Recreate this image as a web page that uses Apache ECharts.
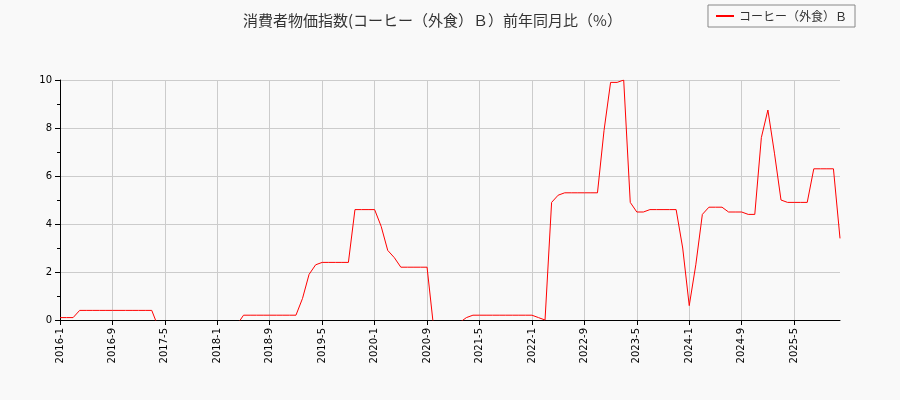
<!DOCTYPE html>
<html lang="ja">
<head>
<meta charset="UTF-8">
<title>コーヒー（外食）Ｂ</title>
<script src="https://cdn.jsdelivr.net/npm/echarts@6/dist/echarts.min.js"></script>
<style>
  body { margin: 0; background: #f9f9f9; }
  #main { width: 900px; height: 400px; }
</style>
</head>
<body>
<div id="main"></div>
<script>
// 2016-1 から 2025-12 までの月次値（マイナス部分は軸の下で切れる）
var startYear = 2016;
var values2016 = [0.1, 0.1, 0.1, 0.4, 0.4, 0.4, 0.4, 0.4, 0.4, 0.4, 0.4, 0.4];
var values2017 = [0.4, 0.4, 0.4, -0.3, -0.3, -0.3, -0.3, -0.3, -0.3, -0.3, -0.3, -0.3];
var values2018 = [-0.3, -0.3, -0.3, -0.2, 0.2, 0.2, 0.2, 0.2, 0.2, 0.2, 0.2, 0.2];
var values2019 = [0.2, 0.9, 1.9, 2.3, 2.4, 2.4, 2.4, 2.4, 2.4, 4.6, 4.6, 4.6];
var values2020 = [4.6, 3.9, 2.9, 2.6, 2.2, 2.2, 2.2, 2.2, 2.2, -0.3, -0.3, -0.3];
var values2021 = [-0.3, -0.1, 0.1, 0.2, 0.2, 0.2, 0.2, 0.2, 0.2, 0.2, 0.2, 0.2];
var values2022 = [0.2, 0.1, 0.0, 4.9, 5.2, 5.3, 5.3, 5.3, 5.3, 5.3, 5.3, 7.9];
var values2023 = [9.9, 9.9, 10.0, 4.9, 4.5, 4.5, 4.6, 4.6, 4.6, 4.6, 4.6, 3.0];
var values2024 = [0.6, 2.3, 4.4, 4.7, 4.7, 4.7, 4.5, 4.5, 4.5, 4.4, 4.4, 7.6];
var values2025 = [8.75, 6.95, 5.0, 4.9, 4.9, 4.9, 4.9, 6.3, 6.3, 6.3, 6.3, 3.4];

var values = [].concat(values2016, values2017, values2018, values2019, values2020,
    values2021, values2022, values2023, values2024, values2025);
var months = [];
for (var i = 0; i < values.length; i++) {
    months.push((startYear + Math.floor(i / 12)) + '-' + (i % 12 + 1));
}

var myChart = echarts.init(document.getElementById('main'));
var font = '"Noto Sans CJK JP", sans-serif';
myChart.setOption({
    backgroundColor: '#f9f9f9',
    animation: false,
    title: {
        text: '消費者物価指数(コーヒー（外食）Ｂ）前年同月比（%）',
        left: 238, top: 8,
        textStyle: { fontSize: 15, fontWeight: 'normal', color: '#333', fontFamily: font }
    },
    legend: {
        right: 45, top: 5,
        borderColor: '#888', borderWidth: 1, borderRadius: 0, padding: [5, 8],
        itemWidth: 18, itemHeight: 2,
        textStyle: { fontSize: 12, color: '#333', fontFamily: font },
        data: [{ name: 'コーヒー（外食）Ｂ', icon: 'rect' }]
    },
    grid: { left: 60, right: 60, top: 80, bottom: 80 },
    xAxis: {
        type: 'category', data: months, boundaryGap: false,
        axisLine: { onZero: false, lineStyle: { color: '#000' } },
        axisTick: { interval: 7, lineStyle: { color: '#000' } },
        axisLabel: { interval: 7, rotate: 90, fontSize: 10, color: '#000', fontFamily: 'DejaVu Sans' },
        splitLine: { show: true, interval: 7, lineStyle: { color: '#ccc' } }
    },
    yAxis: {
        type: 'value', min: 0, max: 10, interval: 2,
        axisLine: { show: true, lineStyle: { color: '#000' } },
        axisTick: { show: true, lineStyle: { color: '#000' } },
        minorTick: { show: true, splitNumber: 2, lineStyle: { color: '#000' } },
        axisLabel: { fontSize: 10, color: '#000', fontFamily: 'DejaVu Sans' },
        splitLine: { lineStyle: { color: '#ccc' } }
    },
    series: [{
        name: 'コーヒー（外食）Ｂ', type: 'line', data: values, clip: true,
        showSymbol: false, color: '#ff0000', lineStyle: { width: 1 }
    }]
});
</script>
</body>
</html>
